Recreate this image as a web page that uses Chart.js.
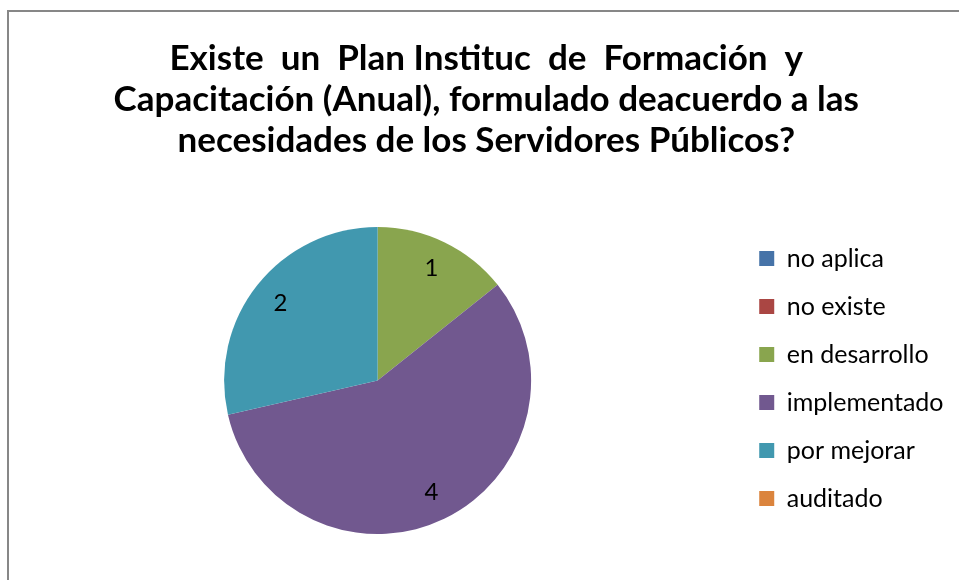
<!DOCTYPE html>
<html>
<head>
<meta charset="utf-8">
<script src="https://cdn.jsdelivr.net/npm/chart.js@4.4.0/dist/chart.umd.min.js"></script>
<style>
  html, body { margin: 0; padding: 0; background: #ffffff; overflow: hidden; }
  #wrap { position: relative; width: 959px; height: 580px; }
  #frame { position: absolute; left: 7px; top: 10px; width: 1000px; height: 1000px;
           border-left: 2px solid #878787; border-top: 2px solid #878787; box-sizing: border-box; pointer-events: none; }
  canvas { position: absolute; left: 0; top: 0; }
</style>
</head>
<body>
<div id="wrap">
  <canvas id="c" width="959" height="580"></canvas>
  <div id="frame"></div>
</div>
<script>
const titleLines = [
  "Existe  un  Plan Instituc  de  Formación  y",
  "Capacitación (Anual), formulado deacuerdo a las",
  "necesidades de los Servidores Públicos?"
];
const categories = ["no aplica", "no existe", "en desarrollo", "implementado", "por mejorar", "auditado"];
const values = [0, 0, 1, 4, 2, 0];
const colors = ["#4673A8", "#AA4643", "#89A54E", "#71588F", "#4198AF", "#DB843D"];

const valueLabels = {
  id: 'valueLabels',
  afterDatasetsDraw(chart) {
    const ctx = chart.ctx;
    const meta = chart.getDatasetMeta(0);
    ctx.save();
    ctx.font = '24px Lato';
    ctx.fillStyle = '#000000';
    ctx.textAlign = 'center';
    ctx.textBaseline = 'middle';
    meta.data.forEach((arc, i) => {
      const v = values[i];
      if (!v) return;
      const p = arc.getProps(['x', 'y', 'startAngle', 'endAngle', 'outerRadius'], true);
      const mid = (p.startAngle + p.endAngle) / 2;
      const r = p.outerRadius * 0.81;
      ctx.fillText(String(v), p.x + Math.cos(mid) * r, p.y + Math.sin(mid) * r);
    });
    ctx.restore();
  }
};

new Chart(document.getElementById('c'), {
  type: 'pie',
  data: {
    labels: categories,
    datasets: [{
      data: values,
      backgroundColor: colors,
      borderWidth: 0
    }]
  },
  options: {
    responsive: false,
    animation: false,
    layout: { padding: { left: 19, right: 5.5, top: 0, bottom: 46 } },
    plugins: {
      title: {
        display: true,
        text: titleLines,
        color: '#000000',
        font: { family: 'Lato', size: 35, weight: 'bold', lineHeight: 41 / 35 },
        padding: { top: 38, bottom: 66 }
      },
      legend: {
        display: true,
        position: 'right',
        align: 'end',
        fullSize: true,
        labels: {
          color: '#000000',
          font: { family: 'Lato', size: 25 },
          boxWidth: 15,
          boxHeight: 15,
          padding: 23
        }
      },
      tooltip: { enabled: false }
    }
  },
  plugins: [valueLabels]
});
</script>
</body>
</html>
